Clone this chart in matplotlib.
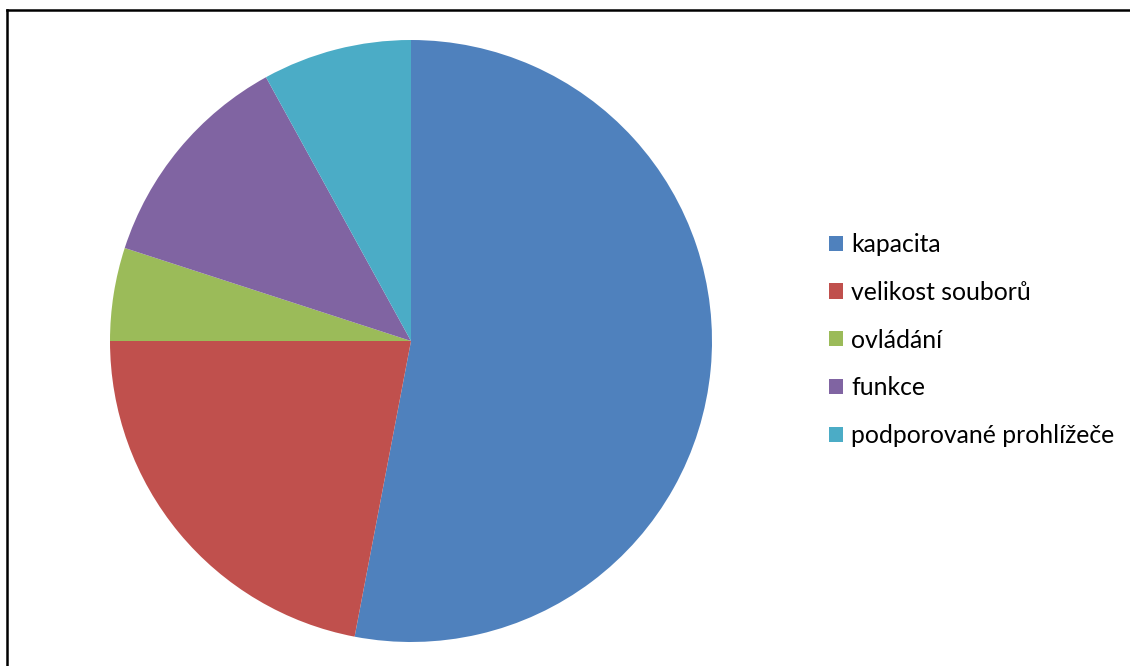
import matplotlib
matplotlib.use("Agg")
import matplotlib.pyplot as plt
from matplotlib.lines import Line2D

labels = ["kapacita", "velikost souborů", "ovládání", "funkce", "podporované prohlížeče"]
values = [53, 22, 5, 12, 8]
colors = ["#4F81BD", "#C0504D", "#9BBB59", "#8064A2", "#4BACC6"]

W, H = 1130, 666
fig = plt.figure(figsize=(W / 100, H / 100), dpi=100)

# pie area, square in pixels
ax = fig.add_axes([110 / W, 24 / H, 602 / W, 602 / H])
wedges, _ = ax.pie(values, colors=colors, startangle=90, counterclock=False,
                   radius=1, wedgeprops=dict(linewidth=0))
ax.set_xlim(-1, 1)
ax.set_ylim(-1, 1)
ax.set_aspect("equal")
ax.axis("off")

fig.legend(wedges, labels, loc="center left",
           bbox_to_anchor=(817 / W, 1 - 340 / H),
           frameon=False, prop=dict(family="Lato", size=17.8),
           handlelength=0.57, handleheight=0.57, handletextpad=0.32,
           labelspacing=1.0, borderpad=0)

# chart frame (top and left edges visible)
fig.add_artist(Line2D([7 / W, 1], [1 - 9.5 / H, 1 - 9.5 / H], color="black", lw=1.8))
fig.add_artist(Line2D([7 / W, 7 / W], [0, 1 - 9.5 / H], color="black", lw=1.8))

fig.savefig("out.png", dpi=100)
